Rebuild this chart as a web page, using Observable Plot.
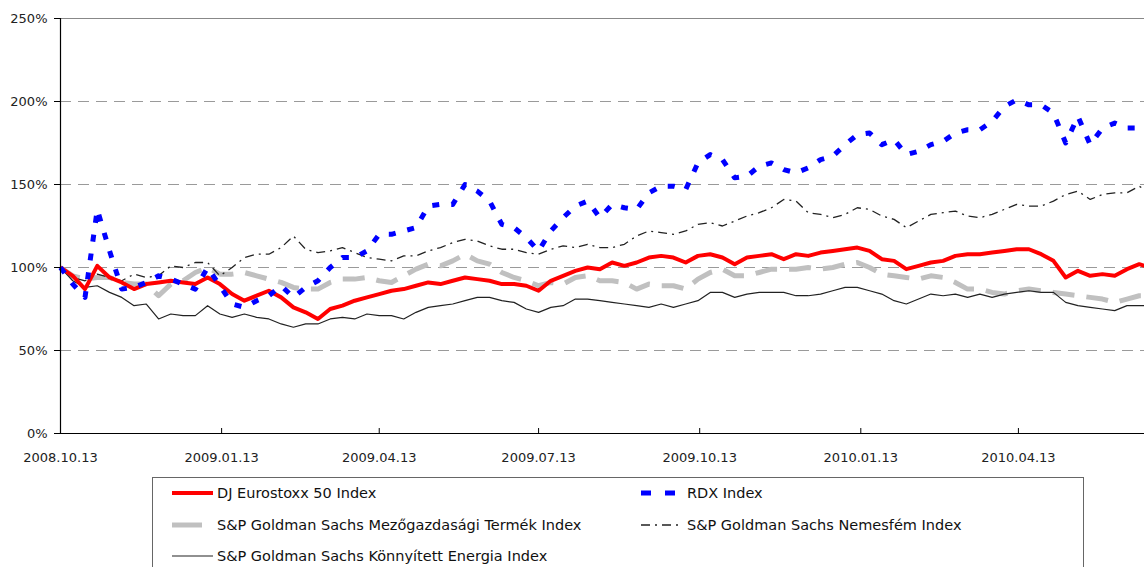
<!DOCTYPE html>
<html><head><meta charset="utf-8">
<script src="https://cdn.jsdelivr.net/npm/d3@7"></script>
<script src="https://cdn.jsdelivr.net/npm/@observablehq/plot@0.6"></script>
<style>
body{margin:0;background:#fff;font-family:"DejaVu Sans",sans-serif;}
#chart{position:absolute;left:0;top:0;}
#legend{position:absolute;left:152px;top:477px;width:932px;height:100px;border:1px solid #666;box-sizing:border-box;background:#fff;}
.item{position:absolute;height:22px;display:flex;align-items:center;font-size:14.5px;color:#111;white-space:nowrap;}
.item svg{display:block;}
</style></head><body>
<div id="chart"></div>
<div id="legend"></div>
<script>
const dates = ["2008-10-13","2008-10-20","2008-10-27","2008-11-03","2008-11-10","2008-11-17","2008-11-24","2008-12-01","2008-12-08","2008-12-15","2008-12-22","2008-12-29",
"2009-01-05","2009-01-12","2009-01-19","2009-01-26","2009-02-02","2009-02-09","2009-02-16","2009-02-23","2009-03-02","2009-03-09","2009-03-16","2009-03-23","2009-03-30",
"2009-04-06","2009-04-13","2009-04-20","2009-04-27","2009-05-04","2009-05-11","2009-05-18","2009-05-25","2009-06-01","2009-06-08","2009-06-15","2009-06-22","2009-06-29",
"2009-07-06","2009-07-13","2009-07-20","2009-07-27","2009-08-03","2009-08-10","2009-08-17","2009-08-24","2009-08-31","2009-09-07","2009-09-14","2009-09-21","2009-09-28",
"2009-10-05","2009-10-12","2009-10-19","2009-10-26","2009-11-02","2009-11-09","2009-11-16","2009-11-23","2009-11-30","2009-12-07","2009-12-14","2009-12-21","2009-12-28",
"2010-01-04","2010-01-11","2010-01-18","2010-01-25","2010-02-01","2010-02-08","2010-02-15","2010-02-22","2010-03-01","2010-03-08","2010-03-15","2010-03-22","2010-03-29",
"2010-04-05","2010-04-12","2010-04-19","2010-04-26","2010-05-03","2010-05-10","2010-05-17","2010-05-24","2010-05-31","2010-06-07","2010-06-14","2010-06-21","2010-06-24"];

const eurostoxx = [100,95,87,101,94,91,87,90,91,92,91,90,94,90,84,80,83,86,82,76,73,69,75,77,80,82,84,86,87,89,91,90,92,94,93,92,90,90,89,86,92,95,98,100,99,103,101,103,106,107,106,103,107,108,106,102,106,107,108,105,108,107,109,110,111,112,110,105,104,99,101,103,104,107,108,108,109,110,111,111,108,104,94,98,95,96,95,99,102,101];

const rdx = [100,90,82,135,110,87,88,91,95,93,90,87,100,89,78,76,80,83,89,82,88,92,100,106,106,110,120,120,122,124,137,138,138,150,146,140,126,124,118,110,122,130,137,140,130,138,136,135,145,149,149,147,163,168,165,154,155,161,163,159,157,160,165,167,174,180,181,174,177,168,170,174,176,181,183,183,188,197,201,198,198,193,175,191,174,184,187,184,184,185];

const agri = [100,95,93,94,94,91,90,90,83,90,92,97,100,96,96,97,95,93,91,88,87,87,91,93,93,94,92,91,95,99,102,101,104,108,104,102,97,94,92,89,91,90,94,95,92,92,91,87,90,89,89,87,93,97,99,95,95,97,99,99,99,100,99,100,102,103,100,96,95,94,93,95,94,91,87,87,85,84,86,87,86,85,84,83,82,81,79,81,83,83];

const precious = [100,94,92,96,94,92,96,94,95,101,100,103,103,95,100,106,108,108,112,119,111,109,110,112,109,106,105,104,107,107,110,112,115,117,116,113,111,111,109,108,111,113,112,114,112,112,114,119,122,121,120,122,126,127,125,128,131,133,136,141,140,133,132,130,132,136,135,131,129,124,128,132,133,134,131,130,132,135,138,137,137,140,144,146,141,144,145,145,149,147];

const energy = [100,92,88,89,85,82,77,78,69,72,71,71,77,72,70,72,70,69,66,64,66,66,69,70,69,72,71,71,69,73,76,77,78,80,82,82,80,79,75,73,76,77,81,81,80,79,78,77,76,78,76,78,80,85,85,82,84,85,85,85,83,83,84,86,88,88,86,84,80,78,81,84,83,84,82,84,82,84,85,86,85,85,79,77,76,75,74,77,77,77];

const seriesNames = ["DJ Eurostoxx 50 Index","RDX Index","S&P Goldman Sachs Mezőgazdasági Termék Index","S&P Goldman Sachs Nemesfém Index","S&P Goldman Sachs Könnyített Energia Index"];
const yTicks = [0,50,100,150,200,250];
const gridVals = [50,100,150,200];
const xTickDates = ["2008-10-13","2009-01-13","2009-04-13","2009-07-13","2009-10-13","2010-01-13","2010-04-13"];
const xStart = "2008-10-13", xEnd = "2010-06-24";

const parse = s => new Date(s + "T00:00:00Z");
const toRows = vals => vals.map((v,i) => ({date: parse(dates[i]), value: v}));

const styles = {
  "DJ Eurostoxx 50 Index": {stroke:"#ff0000", strokeWidth:4, dash:null},
  "RDX Index": {stroke:"#0000ff", strokeWidth:5, dash:"7,12"},
  "S&P Goldman Sachs Mezőgazdasági Termék Index": {stroke:"#c0c0c0", strokeWidth:5, dash:"22,12"},
  "S&P Goldman Sachs Nemesfém Index": {stroke:"#222", strokeWidth:1.3, dash:"9,5,2,5"},
  "S&P Goldman Sachs Könnyített Energia Index": {stroke:"#222", strokeWidth:1.2, dash:null}
};
const valuesByName = {
  "DJ Eurostoxx 50 Index": eurostoxx,
  "RDX Index": rdx,
  "S&P Goldman Sachs Mezőgazdasági Termék Index": agri,
  "S&P Goldman Sachs Nemesfém Index": precious,
  "S&P Goldman Sachs Könnyített Energia Index": energy
};
const drawOrder = [seriesNames[2], seriesNames[4], seriesNames[3], seriesNames[0], seriesNames[1]];
const fmt = d3.utcFormat("%Y.%m.%d");

const lineMarks = drawOrder.map(n => {
  const s = styles[n];
  const o = {x:"date", y:"value", stroke:s.stroke, strokeWidth:s.strokeWidth, strokeLinejoin:"round", strokeLinecap:"butt"};
  if (s.dash) o.strokeDasharray = s.dash;
  return Plot.line(toRows(valuesByName[n]), o);
});

const chart = Plot.plot({
  width:1144, height:468,
  marginLeft:60, marginRight:0, marginTop:18, marginBottom:35,
  x:{type:"utc", domain:[parse(xStart), parse(xEnd)]},
  y:{domain:[0,250]},
  style:{fontFamily:"'DejaVu Sans', sans-serif", fontSize:"13px", color:"#222", background:"#fff", overflow:"visible"},
  marks:[
    Plot.ruleY(gridVals, {stroke:"#9a9a9a", strokeDasharray:"11,7"}),
    Plot.ruleY([250], {stroke:"#888"}),
    Plot.axisY({ticks:yTicks, tickFormat:d => d + "%", tickSize:6, tickPadding:7, label:null, fontSize:13, stroke:"#000"}),
    Plot.axisX({ticks:xTickDates.map(parse), tickFormat:fmt, tickSize:0, tickPadding:19, label:null, fontSize:13}),
    ...lineMarks,
    Plot.ruleY([0], {stroke:"#000", strokeWidth:1.2}),
    Plot.ruleX([parse(xStart)], {stroke:"#000", strokeWidth:1.2}),
    Plot.ruleX(xTickDates.map(parse), {y1:0, y2:3, stroke:"#000"})
  ]
});
document.getElementById("chart").appendChild(chart);

// legend
const legend = document.getElementById("legend");
const legendPos = [
  {name:seriesNames[0], left:19, row:0, sw:41},
  {name:seriesNames[1], left:488, row:0, sw:42},
  {name:seriesNames[2], left:19, row:1, sw:41},
  {name:seriesNames[3], left:488, row:1, sw:42},
  {name:seriesNames[4], left:19, row:2, sw:41}
];
const rowTop = [4, 35.5, 67];
legendPos.forEach(p => {
  const s = styles[p.name];
  const div = document.createElement("div");
  div.className = "item";
  div.style.left = p.left + "px";
  div.style.top = rowTop[p.row] + "px";
  const svg = d3.create("svg").attr("width", p.sw + 4).attr("height", 22);
  let dash = s.dash;
  if (p.name === seriesNames[1]) dash = "10,14";
  if (p.name === seriesNames[2]) dash = "30,20";
  svg.append("line").attr("x1",0).attr("x2",p.sw).attr("y1",11).attr("y2",11)
    .attr("stroke", s.stroke).attr("stroke-width", s.strokeWidth)
    .attr("stroke-dasharray", dash);
  div.appendChild(svg.node());
  const t = document.createElement("span");
  t.textContent = p.name;
  div.appendChild(t);
  legend.appendChild(div);
});
</script>
</body></html>
